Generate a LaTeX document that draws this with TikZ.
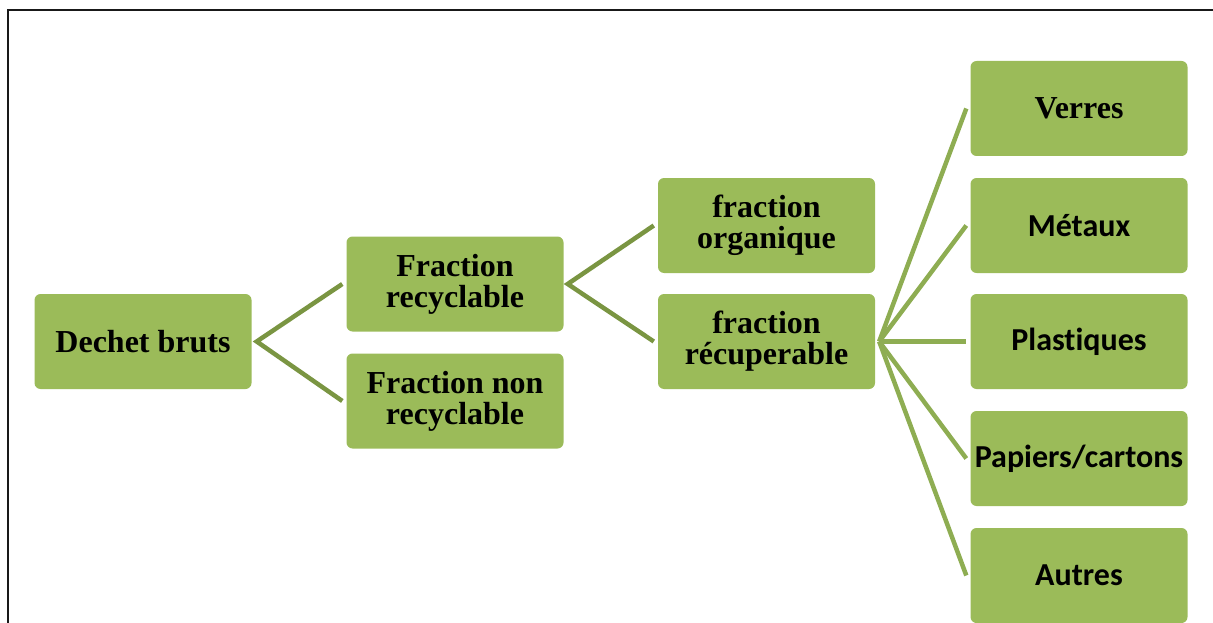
\documentclass[tikz,border=0pt]{standalone}
\usepackage{fontspec}
\setmainfont{Liberation Serif}
\newfontfamily\calib[Ligatures=NoCommon]{Carlito}
\definecolor{boxgreen}{HTML}{9BBB59}
\definecolor{linedark}{HTML}{7A9542}
\definecolor{linelight}{HTML}{8EAD52}
\tikzset{
  box/.style={fill=boxgreen, rounded corners=6pt, minimum width=217pt, minimum height=95pt,
    inner sep=0pt, align=center, text=black, font=\fontsize{32}{31}\selectfont\bfseries},
  sbox/.style={box, font=\fontsize{32}{31}\selectfont\calib\bfseries},
  conndark/.style={draw=linedark, line width=4.5pt},
  connlight/.style={draw=linelight, line width=4.5pt},
}
\begin{document}
\begin{tikzpicture}[x=1pt,y=-1pt]
\useasboundingbox (0,0) rectangle (1213,623);
\draw[line width=2.5pt, black!90] (8,623) -- (8,10) -- (1213,10);
\node[box] (dechet) at (143,341.5) {Dechet bruts};
\node[box] (frec) at (455,284) {Fraction\\recyclable};
\node[box] (fnon) at (455,401) {Fraction non\\recyclable};
\node[box] (forg) at (766.5,225.5) {fraction\\organique};
\node[box] (frecup) at (766.5,341.5) {fraction\\récuperable};
\node[box] (verres) at (1079,108.5) {Verres};
\node[sbox] (metaux) at (1079,225.5) {Métaux};
\node[sbox] (plast) at (1079,341.5) {Plastiques};
\node[sbox] (papiers) at (1079,458.5) {Papiers/cartons};
\node[sbox] (autres) at (1079,575.5) {Autres};
\coordinate (d0) at ([xshift=5pt]dechet.east);
\coordinate (r0) at ([xshift=4pt]frec.east);
\coordinate (p0) at ([xshift=4pt]frecup.east);
\draw[conndark] ([xshift=-4pt]frec.west) -- (d0) -- ([xshift=-4pt]fnon.west);
\draw[conndark] ([xshift=-4pt]forg.west) -- (r0) -- ([xshift=-4pt]frecup.west);
\foreach \t in {verres,metaux,plast,papiers,autres}{
  \draw[connlight] (p0) -- ([xshift=-4pt]\t.west);
}
\end{tikzpicture}
\end{document}
